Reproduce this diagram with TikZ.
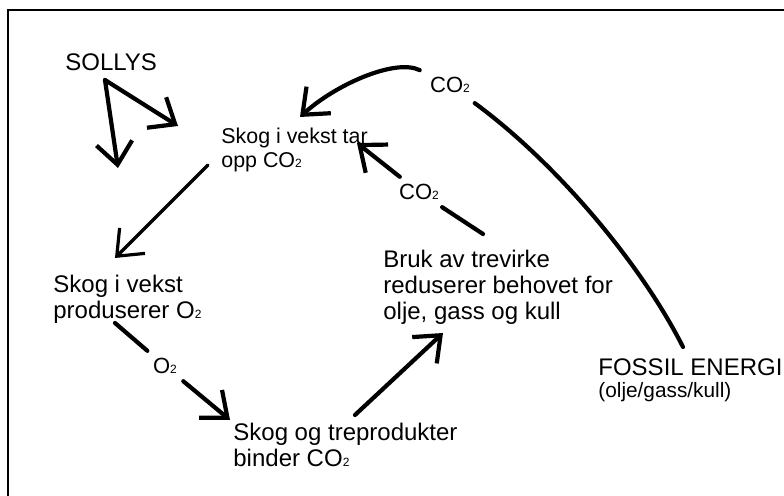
\documentclass[tikz,border=0pt]{standalone}
\usepackage{fontspec}
\setmainfont{Liberation Sans}
\usetikzlibrary{arrows.meta}

\newcommand{\subtwo}{{\fontsize{6}{6}\selectfont 2}}

\tikzset{
  txt/.style={anchor=north west, inner sep=0pt, align=left, font=\fontsize{12}{13}\selectfont},
  lbl/.style={inner sep=3.5pt, font=\fontsize{11}{12}\selectfont},
  conn/.style={line width=2.1pt, line cap=round},
  arr/.style={conn, -{Straight Barb[length=11pt,width=18pt]}}
}

\begin{document}
\begin{tikzpicture}[x=0.5pt, y=-0.5pt]
      \useasboundingbox (0,0) rectangle (784,496);
      % Frame
      \draw[line width=0.8pt] (784,10) -- (8,10) -- (8,496);

      % Texts
      \node[txt] (sollys) at (65,53) {SOLLYS};
      \node[txt, font=\fontsize{10.7}{12}\selectfont] (opptak) at (221,128) {Skog i vekst tar\\opp CO\subtwo};
      \node[txt] (vekst) at (53,275) {Skog i vekst\\produserer O\subtwo};
      \node[txt] (binder) at (233,423) {Skog og treprodukter\\binder CO\subtwo};
      \node[txt] (trevirke) at (383,250) {Bruk av trevirke\\reduserer behovet for\\olje, gass og kull};
      \node[txt] (fossil) at (598,358) {FOSSIL ENERGI\\[-2pt]{\fontsize{10.4}{12}\selectfont (olje/gass/kull)}};

      % Labels on the arrows
      \node[lbl] (otwo) at (165,366) {O\subtwo};
      \node[lbl] (co2b) at (419,192) {CO\subtwo};
      \node[lbl, inner sep=5pt] (co2a) at (450,85) {CO\subtwo};

      % Arrow ends
      \coordinate (fork) at (105,80);
      \coordinate (sunA) at (118,168);
      \coordinate (sunB) at (178,126);
      \coordinate (opptakOut) at (208,165);
      \coordinate (vekstIn) at (115,258);
      \coordinate (vekstOut) at (115,323);
      \coordinate (binderIn) at (230,420);
      \coordinate (binderOut) at (355,415);
      \coordinate (trevirkeIn) at (443,333);
      \coordinate (trevirkeOut) at (483,234);
      \coordinate (opptakIn) at (357,143);
      \coordinate (fossilOut) at (683,347);
      \coordinate (opptakTop) at (300,117);

      % Sunlight
      \draw[arr] (fork) -- (sunA);
      \draw[arr] (fork) -- (sunB);

      % Cycle
      \draw[arr, line width=1.6pt] (opptakOut) -- (vekstIn);
      \draw[conn] (vekstOut) -- (otwo);
      \draw[arr] (otwo) -- (binderIn);
      \draw[arr] (binderOut) -- (trevirkeIn);
      \draw[conn] (trevirkeOut) -- (co2b);
      \draw[arr] (co2b) -- (opptakIn);

      % Fossil energy
      \draw[conn] (fossilOut) .. controls (640,262) and (555,162) .. (co2a);
      \draw[arr] (co2a) .. controls (395,58) and (335,85) .. (opptakTop);
\end{tikzpicture}
\end{document}
